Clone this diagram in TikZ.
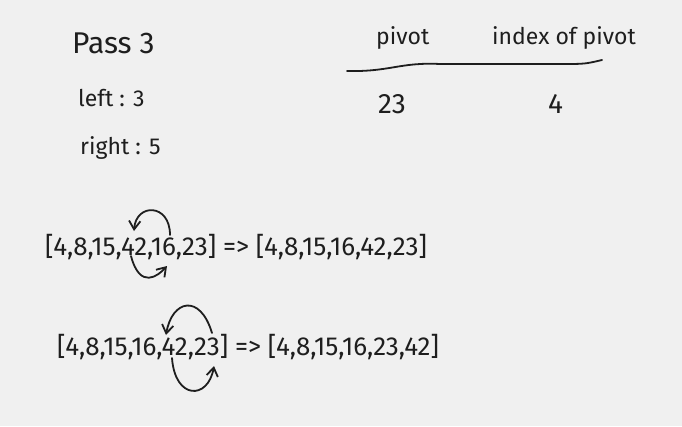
\documentclass[tikz,border=0pt]{standalone}
\usepackage{fontspec}
\setmainfont{Fira Sans}
\usepackage{tikz}
\usetikzlibrary{arrows.meta,positioning}
\definecolor{paper}{RGB}{240,240,240}
\definecolor{ink}{RGB}{30,30,30}

\begin{document}
\begin{tikzpicture}[
  x=1pt, y=-1pt,
  txt/.style={text=ink, inner sep=0pt, anchor=west, font=\fontsize{23}{27}\selectfont},
  big/.style={txt, font=\fontsize{30}{34}\selectfont},
  val/.style={txt, font=\fontsize{28}{32}\selectfont},
  list/.style={txt, font=\fontsize{26}{30}\selectfont},
  swap/.style={-{Straight Barb[length=3mm,width=4mm]}, line width=1.8pt, draw=ink, line cap=round},
  rule/.style={line width=1.8pt, draw=ink, line cap=round}
]
\path[use as bounding box, fill=paper] (0,0) rectangle (682,426);
% header
\node[big] (pass) at (72,43) {Pass 3};
\node[txt] (left) at (78,98) {left : 3};
\node[txt] (right) at (80,148) {right : 5};
\node[txt] (pivot) at (376,38) {pivot};
\node[txt] (index) at (492,38) {index of pivot};
\coordinate (rulea) at (347,71);
\coordinate (ruleb) at (602,60);
\draw[rule] (rulea) .. controls (390,72) and (400,62) .. (440,64) -- (560,64) .. controls (585,64) .. (ruleb);
\node[val] (pval) at (378,104) {23};
\node[val] (ival) at (548,104) {4};
% swaps
\node[list] (swapa) at (45,247) {[4,8,15,42,16,23] => [4,8,15,16,42,23]};
\node[list] (swapb) at (57,347) {[4,8,15,16,42,23] => [4,8,15,16,23,42]};
\coordinate (a1) at (170,235);
\coordinate (a2) at (134,231);
\coordinate (a3) at (131,256);
\coordinate (a4) at (167,266);
\draw[swap] (a1) .. controls (170,203) and (136,203) .. (a2);
\draw[swap] (a3) .. controls (140,290) and (158,276) .. (a4);
\coordinate (b1) at (212,333);
\coordinate (b2) at (166,335);
\coordinate (b3) at (172,358);
\coordinate (b4) at (214,366);
\draw[swap] (b1) .. controls (200,293) and (172,300) .. (b2);
\draw[swap] (b3) .. controls (175,400) and (208,400) .. (b4);
\end{tikzpicture}
\end{document}
